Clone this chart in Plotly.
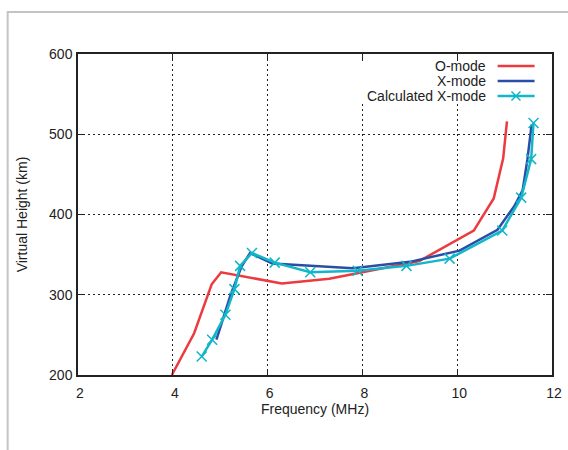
import plotly.graph_objects as go

# O-mode (measured)
o_freq = [3.98, 4.45, 4.82, 5.02, 6.30, 7.30, 8.00, 9.20, 10.35, 10.77, 10.97, 11.05]
o_height = [200, 252, 313, 328, 314, 320, 328, 342, 380, 420, 470, 516]

# X-mode (measured)
x_freq = [4.92, 5.22, 5.45, 5.63, 6.10, 7.80, 9.00, 10.05, 10.85, 11.20, 11.38, 11.48, 11.57]
x_height = [244, 300, 335, 352, 339, 333, 341, 355, 381, 410, 430, 468, 512]

# Calculated X-mode
c_freq = [4.61, 4.83, 5.11, 5.30, 5.42, 5.67, 6.15, 6.90, 7.90, 8.93, 9.84, 10.95, 11.35, 11.56, 11.61]
c_height = [223, 244, 275, 307, 336, 352, 340, 328, 330, 336, 345, 380, 421, 469, 514]

x_ticks = [2, 4, 6, 8, 10, 12]
y_ticks = [200, 300, 400, 500, 600]

RED = "#ec3a3f"
BLUE = "#2a4ea6"
CYAN = "#12b6c9"
FONT = "Liberation Sans, Arial, sans-serif"
FS = 14

fig = go.Figure()
fig.add_trace(go.Scatter(x=o_freq, y=o_height, mode="lines", name="O-mode",
                         line=dict(color=RED, width=2.5)))
fig.add_trace(go.Scatter(x=x_freq, y=x_height, mode="lines", name="X-mode",
                         line=dict(color=BLUE, width=2.5)))
fig.add_trace(go.Scatter(x=c_freq, y=c_height, mode="lines+markers", name="Calculated X-mode",
                         line=dict(color=CYAN, width=2.5),
                         marker=dict(symbol="x-thin", size=10, line=dict(color=CYAN, width=1.5))))

axis_common = dict(
    showline=True, linecolor="#222", linewidth=1.5, mirror="ticks",
    ticks="inside", ticklen=6, tickcolor="#222", tickwidth=1,
    showgrid=True, gridcolor="#222", gridwidth=1, griddash="2px,3px",
    zeroline=False, automargin=False,
    tickfont=dict(family=FONT, size=FS, color="#222"),
)

fig.update_xaxes(range=[2, 12], tickvals=x_ticks, ticklabelstandoff=4, ticklabelshift=2, **axis_common,
                 title=dict(text="Frequency (MHz)", font=dict(family=FONT, size=FS, color="#222"), standoff=4))
fig.update_yaxes(range=[200, 600], tickvals=y_ticks, ticklabelstandoff=1, **axis_common,
                 title=dict(text="Virtual Height (km)", font=dict(family=FONT, size=FS, color="#222"), standoff=18))

shapes = []
# outer frame (light gray, partially visible)
shapes.append(dict(type="rect", xref="paper", yref="paper", x0=-0.1484, x1=1.3, y0=-0.5, y1=1.1308,
                   line=dict(color="#c4c4c4", width=2), fillcolor="rgba(0,0,0,0)", layer="below"))
# opaque legend background covering grid lines
shapes.append(dict(type="rect", xref="paper", yref="paper", x0=0.59, x1=0.985, y0=0.847, y1=0.978,
                   line=dict(width=0), fillcolor="white", layer="above"))

# legend samples
rows = [0.9626, 0.9159, 0.8692]
names = ["O-mode", "X-mode", "Calculated X-mode"]
colors = [RED, BLUE, CYAN]
annotations = []
for ry, nm, col in zip(rows, names, colors):
    annotations.append(dict(xref="paper", yref="paper", x=0.866, y=ry, text=nm, showarrow=False,
                            xanchor="right", yanchor="middle",
                            font=dict(family=FONT, size=FS, color="#222")))
    shapes.append(dict(type="line", xref="paper", yref="paper", x0=0.8853, x1=0.9632, y0=ry, y1=ry,
                       line=dict(color=col, width=2.5), layer="above"))
cx, cy = 0.924, rows[2]
shapes.append(dict(type="line", xref="paper", yref="paper", x0=cx - 0.0095, x1=cx + 0.0095,
                   y0=cy - 0.014, y1=cy + 0.014, line=dict(color=CYAN, width=1.5), layer="above"))
shapes.append(dict(type="line", xref="paper", yref="paper", x0=cx - 0.0095, x1=cx + 0.0095,
                   y0=cy + 0.014, y1=cy - 0.014, line=dict(color=CYAN, width=1.5), layer="above"))

fig.update_layout(
    width=568, height=450,
    margin=dict(l=77.5, r=15.5, t=54, b=75, autoexpand=False),
    paper_bgcolor="white", plot_bgcolor="white",
    showlegend=False,
    shapes=shapes, annotations=annotations,
    font=dict(family=FONT, size=FS, color="#222"),
)

fig.write_html("out.html", config={"displayModeBar": False},
               post_script="document.body.style.margin='0';document.body.style.overflow='hidden';")
